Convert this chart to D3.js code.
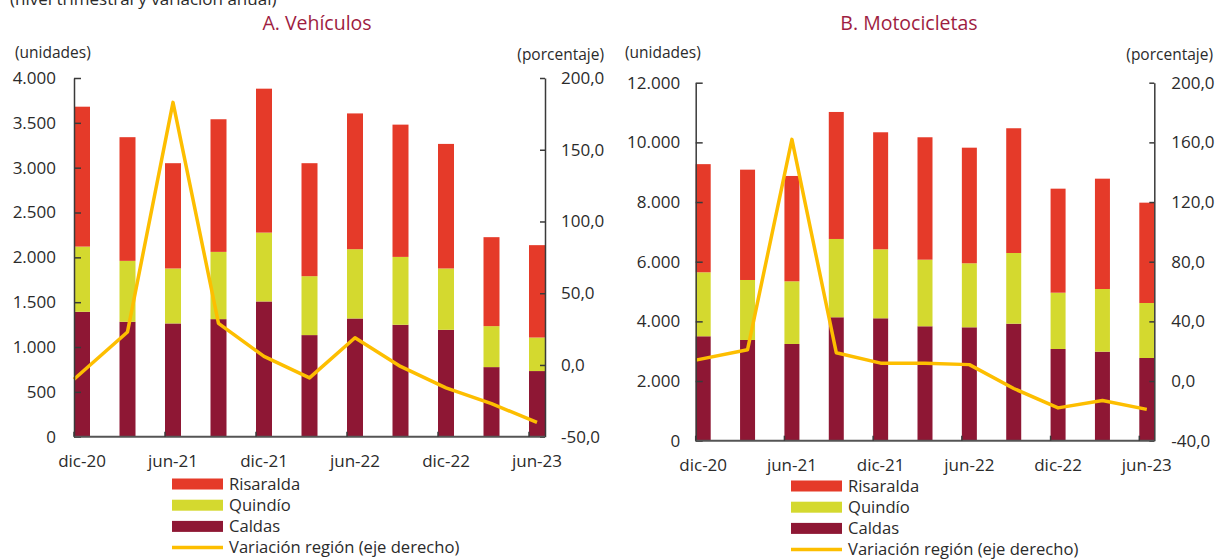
<!DOCTYPE html>
<html>
<head>
<meta charset="utf-8">
<script src="https://cdn.jsdelivr.net/npm/d3@7"></script>
<style>
  html, body { margin: 0; padding: 0; background: #fff; }
  svg { display: block; font-family: "Open Sans", sans-serif; }
</style>
</head>
<body>
<svg id="chart" width="1221" height="559"></svg>
<script>
// ---------- data ----------
const categories = ["dic-20","mar-21","jun-21","sep-21","dic-21","mar-22","jun-22","sep-22","dic-22","mar-23","jun-23"];
const tickLabels = ["dic-20","jun-21","dic-21","jun-22","dic-22","jun-23"];
const seriesNames = ["Risaralda","Quindío","Caldas","Variación región (eje derecho)"];

const vehCaldas     = [1393,1281,1263,1311,1508,1133,1318,1248,1192,776,732];
const vehQuindio    = [727,680,613,750,768,657,773,757,684,457,374];
const vehRisaralda  = [1560,1379,1174,1479,1605,1260,1514,1475,1389,992,1030];
const vehVariacion  = [-10,23,183,29,6,-9,19,-1,-16,-27,-40];

const motoCaldas    = [3500,3376,3242,4137,4103,3835,3801,3922,3074,2984,2772];
const motoQuindio   = [2145,2011,2101,2625,2313,2233,2146,2370,1887,2101,1844];
const motoRisaralda = [3625,3698,3531,4257,3922,4103,3875,4181,3487,3698,3363];
const motoVariacion = [14,21,162,19,12,12,11,-5,-18,-13,-19];

const vehLeftTicks   = [0,500,1000,1500,2000,2500,3000,3500,4000];
const vehRightTicks  = [-50,0,50,100,150,200];
const motoLeftTicks  = [0,2000,4000,6000,8000,10000,12000];
const motoRightTicks = [-40,0,40,80,120,160,200];

const supTitle = "(nivel trimestral y variación anual)";

// ---------- styles ----------
const colors = { Risaralda: "#E53A29", Quindio: "#D4D92F", Caldas: "#8E1734", line: "#FDBE00" };
const titleColor = "#9E1D41";
const textColor = "#2b2b2b";
const axisColor = "#3a3a3a";

const loc = d3.formatLocale({ decimal: ",", thousands: ".", grouping: [3], currency: ["$", ""], minus: "-" });
const fmtLeft = loc.format(",.0f");
const fmtRight = loc.format(".1f");

const svg = d3.select("#chart");

svg.append("text")
  .attr("x", 10).attr("y", 5)
  .attr("font-size", 17).attr("fill", textColor)
  .text(supTitle);

const panels = [
  {
    title: "A. Vehículos", titleX: 317,
    left: 74, right: 545, top: 78, bottom: 436.7, bw: 16,
    caldas: vehCaldas, quindio: vehQuindio, risaralda: vehRisaralda, variacion: vehVariacion,
    leftTicks: vehLeftTicks, rightTicks: vehRightTicks,
    leftPad: 18, rightPad: 16,
    unitsX: 15, pctRight: 604,
    legendX: 172, legendY: 484
  },
  {
    title: "B. Motocicletas", titleX: 909,
    left: 695.7, right: 1154.3, top: 82.7, bottom: 440.7, bw: 15,
    caldas: motoCaldas, quindio: motoQuindio, risaralda: motoRisaralda, variacion: motoVariacion,
    leftTicks: motoLeftTicks, rightTicks: motoRightTicks,
    leftPad: 15.5, rightPad: 17,
    unitsX: 625, pctRight: 1213,
    legendX: 791, legendY: 486
  }
];

panels.forEach(p => {
  const n = categories.length;
  const W = p.right - p.left;
  // bars flush with both axes: W = step*(n-1) + bw
  const st = (W - p.bw) / (n - 1);
  const pi = 1 - p.bw / st;
  const x = d3.scaleBand().domain(categories).range([p.left, p.right]).paddingInner(pi).paddingOuter(0);

  const yMax = d3.max(p.leftTicks);
  const y = d3.scaleLinear().domain([0, yMax]).range([p.bottom, p.top]);
  const y2 = d3.scaleLinear().domain([d3.min(p.rightTicks), d3.max(p.rightTicks)]).range([p.bottom, p.top]);

  const g = svg.append("g");

  // title
  g.append("text").attr("x", p.titleX).attr("y", 30)
    .attr("text-anchor", "middle").attr("font-size", 19.5).attr("fill", titleColor)
    .text(p.title);
  // unit labels
  g.append("text").attr("x", p.unitsX).attr("y", 58)
    .attr("font-size", 15.5).attr("fill", textColor).text("(unidades)");
  g.append("text").attr("x", p.pctRight).attr("y", 60)
    .attr("text-anchor", "end").attr("font-size", 15.5).attr("fill", textColor).text("(porcentaje)");

  // stacked bars
  const rows = categories.map((c, i) => ({ cat: c, Caldas: p.caldas[i], Quindio: p.quindio[i], Risaralda: p.risaralda[i] }));
  const stack = d3.stack().keys(["Caldas", "Quindio", "Risaralda"])(rows);
  g.append("g").selectAll("g").data(stack).join("g")
    .attr("fill", d => colors[d.key])
    .selectAll("rect").data(d => d).join("rect")
    .attr("x", d => x(d.data.cat))
    .attr("width", x.bandwidth())
    .attr("y", d => y(d[1]))
    .attr("height", d => y(d[0]) - y(d[1]));

  // line (first point starts at the axis)
  const pts = p.variacion.map((v, i) => [i === 0 ? x(categories[i]) : x(categories[i]) + x.bandwidth() / 2, y2(v)]);
  g.append("path").attr("d", d3.line()(pts))
    .attr("fill", "none").attr("stroke", colors.line).attr("stroke-width", 3.5)
    .attr("stroke-linejoin", "round");

  // left axis
  const la = g.append("g").attr("transform", `translate(${p.left},0)`)
    .call(d3.axisLeft(y).tickValues(p.leftTicks).tickFormat(fmtLeft).tickSize(-7).tickPadding(p.leftPad).tickSizeOuter(0));
  // right axis
  const ra = g.append("g").attr("transform", `translate(${p.right},0)`)
    .call(d3.axisRight(y2).tickValues(p.rightTicks).tickFormat(fmtRight).tickSize(-5).tickPadding(p.rightPad).tickSizeOuter(0));
  [la, ra].forEach(a => {
    a.select(".domain").attr("stroke", axisColor).attr("stroke-width", 1.5);
    a.selectAll(".tick line").attr("stroke", axisColor).attr("stroke-width", 1.5);
    a.selectAll(".tick text").attr("font-size", 17).attr("fill", textColor).attr("font-family", "Open Sans, sans-serif");
  });

  // bottom axis
  g.append("line").attr("x1", p.left).attr("x2", p.right)
    .attr("y1", p.bottom).attr("y2", p.bottom)
    .attr("stroke", "#555").attr("stroke-width", 2);
  g.append("g").selectAll("line").data(tickLabels).join("line")
    .attr("x1", d => x(d)).attr("x2", d => x(d))
    .attr("y1", p.bottom).attr("y2", p.bottom - 5)
    .attr("stroke", axisColor).attr("stroke-width", 1.5);
  g.append("g").selectAll("text").data(tickLabels).join("text")
    .attr("x", d => x(d) + x.bandwidth() / 2)
    .attr("y", p.bottom + 30)
    .attr("text-anchor", "middle").attr("font-size", 17).attr("fill", textColor)
    .text(d => d);

  // legend
  const leg = g.append("g");
  const legColors = [colors.Risaralda, colors.Quindio, colors.Caldas, colors.line];
  seriesNames.forEach((name, i) => {
    const cy = p.legendY + i * 21.2;
    if (i < 3) {
      leg.append("rect").attr("x", p.legendX).attr("y", cy - 5.5).attr("width", 51).attr("height", 11).attr("fill", legColors[i]);
    } else {
      leg.append("line").attr("x1", p.legendX).attr("x2", p.legendX + 51).attr("y1", cy).attr("y2", cy)
        .attr("stroke", legColors[i]).attr("stroke-width", 3.5);
    }
    leg.append("text").attr("x", p.legendX + 57).attr("y", cy).attr("dy", "0.35em")
      .attr("font-size", 16.6).attr("fill", textColor).text(name);
  });
});
</script>
</body>
</html>
